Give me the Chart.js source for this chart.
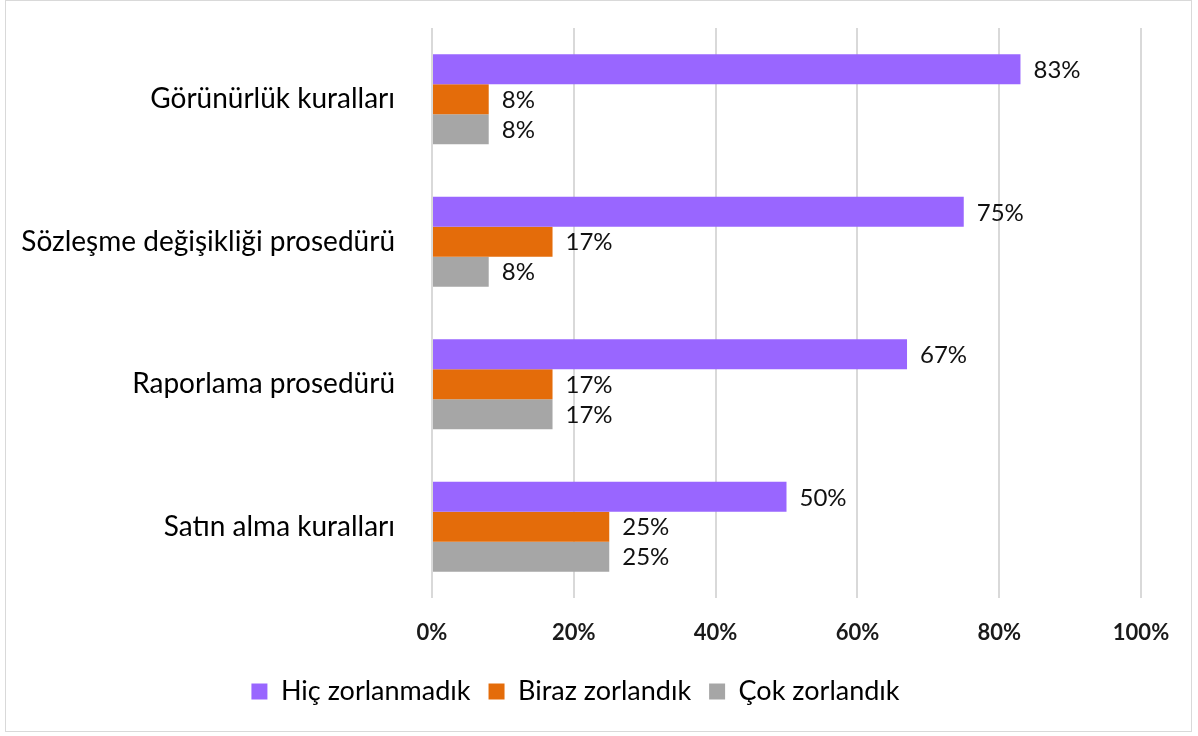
<!DOCTYPE html>
<html>
<head>
<meta charset="utf-8">
<script src="https://cdn.jsdelivr.net/npm/chart.js@4/dist/chart.umd.min.js"></script>
<style>
  html, body { margin: 0; padding: 0; background: #fff; }
  #wrap { position: absolute; left: 5px; top: 0; width: 1187px; height: 732px; border: 1px solid #d9d9d9; box-sizing: border-box; }
  #holder { position: absolute; left: 0; top: 0; width: 1198px; height: 736px; }
</style>
</head>
<body>
<div id="wrap"></div>
<div id="holder"><canvas id="myChart" width="1198" height="736"></canvas></div>
<script>
// chart data
var categories = ['Görünürlük kuralları', 'Sözleşme değişikliği prosedürü', 'Raporlama prosedürü', 'Satın alma kuralları'];
var seriesNames = ['Hiç zorlanmadık', 'Biraz zorlandık', 'Çok zorlandık'];
var hicValues = [83, 75, 67, 50];
var birazValues = [8, 17, 17, 25];
var cokValues = [8, 8, 17, 25];
var tickLabels = ['0%', '20%', '40%', '60%', '80%', '100%'];

var fontFamily = 'Lato, "Open Sans", sans-serif';

// draws value labels at the end of each bar
var valueLabels = {
  id: 'valueLabels',
  afterDatasetsDraw: function(chart) {
    var ctx = chart.ctx;
    ctx.save();
    ctx.font = '24px ' + fontFamily;
    ctx.fillStyle = '#111';
    ctx.textAlign = 'left';
    ctx.textBaseline = 'middle';
    chart.data.datasets.forEach(function(ds, i) {
      chart.getDatasetMeta(i).data.forEach(function(bar, j) {
        ctx.fillText(ds.data[j] + '%', bar.x + 13, bar.y + 1);
      });
    });
    ctx.restore();
  }
};

new Chart('myChart', {
  type: 'bar',
  data: {
    labels: categories,
    datasets: [
      { label: seriesNames[0], data: hicValues, backgroundColor: '#9966ff' },
      { label: seriesNames[1], data: birazValues, backgroundColor: '#e46c0a' },
      { label: seriesNames[2], data: cokValues, backgroundColor: '#a6a6a6' }
    ]
  },
  options: {
    indexAxis: 'y',
    responsive: false,
    animation: false,
    layout: { padding: { left: 10, right: 57, top: 28, bottom: 21 } },
    datasets: { bar: { barPercentage: 1, categoryPercentage: 0.63 } },
    scales: {
      x: {
        min: 0, max: 100,
        ticks: {
          stepSize: 20,
          padding: 22,
          color: '#1a1a1a',
          font: { family: fontFamily, size: 22, weight: 'bold' },
          callback: function(v, i) { return tickLabels[i]; }
        },
        grid: { color: '#d9d9d9', lineWidth: 2, drawTicks: false },
        border: { display: false },
        afterFit: function(scale) { scale.height = 62; }
      },
      y: {
        ticks: {
          padding: 29,
          color: '#000',
          font: { family: fontFamily, size: 28 }
        },
        grid: { display: false },
        border: { display: false },
        afterFit: function(scale) {
          scale.width = 422;
          scale.paddingTop = 0;
          scale.paddingBottom = 0;
        }
      }
    },
    plugins: {
      legend: {
        position: 'bottom',
        labels: {
          boxWidth: 16, boxHeight: 16, padding: 18,
          color: '#000',
          font: { family: fontFamily, size: 27 }
        }
      },
      tooltip: { enabled: false }
    }
  },
  plugins: [valueLabels]
});
</script>
</body>
</html>
